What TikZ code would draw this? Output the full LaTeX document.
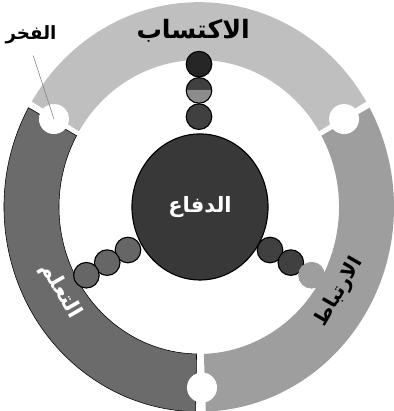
\documentclass[tikz,border=0pt]{standalone}
\usepackage{fontspec}
\usetikzlibrary{positioning, shapes.geometric}
\newfontfamily\arabicfont[Script=Arabic]{DejaVu Sans}
\TeXXeTstate=1
\tikzset{
    bead/.style={circle, draw=black, thick, minimum size=6.4mm, inner sep=0pt, fill=black!75},
    gapdot/.style={circle, fill=white, minimum size=7.5mm, inner sep=0pt},
    ringtext/.style={font=\arabicfont\bfseries\fontsize{15}{15}\selectfont, inner sep=1pt},
    leader/.style={draw=black!50, thin, shorten <=5pt}
}

\begin{document}
\begin{tikzpicture}[x=0.025cm, y=0.02625cm]
\useasboundingbox (-199,-194.3) rectangle (194,197.1);

% --- Ring segments ---
\fill[black!25] (31:195) arc[start angle=31, end angle=149, radius=195]
    -- (149:140) arc[start angle=149, end angle=31, radius=140] -- cycle;
\fill[black!38] (-88:195) arc[start angle=-88, end angle=29, radius=195]
    -- (29:140) arc[start angle=29, end angle=-88, radius=140] -- cycle;
\filldraw[fill=black!58, draw=black, thin] (151:195) arc[start angle=151, end angle=269, radius=195]
    -- (269:140) arc[start angle=269, end angle=151, radius=140] -- cycle;

% --- White joints between segments ---
\node[gapdot] (g30) at (30:167.5) {};
\node[gapdot] (g150) at (150:167.5) {};
\node[gapdot] (g270) at (271:172) {};

% --- Bead chains ---
\node[bead] (top1) at (90:86) {};
\node[bead, path picture={\fill[black!45] (path picture bounding box.west) rectangle (path picture bounding box.south east);}] (top2) at (90:111) {};
\node[bead, fill=black!85] (top3) at (90:136) {};
\foreach \i/\r in {1/82, 2/106, 3/130} {
    \node[bead, fill=black!60] (left\i) at (210:\r) {};
}
\node[bead] (right1) at (330:82) {};
\node[bead] (right2) at (330:106) {};
\node[bead, fill=black!38, draw=black!38] (right3) at (330:130) {};

% --- Centre ---
\node[ellipse, draw=black, thick, fill=black!78, minimum width=3.4cm, minimum height=3.65cm,
    inner sep=0pt, text=white, font=\arabicfont\bfseries\fontsize{15}{15}\selectfont] (defence) at (1,0) {\beginR الدفاع\endR};

% --- Ring labels ---
\node[ringtext, font=\arabicfont\bfseries\fontsize{18}{18}\selectfont] (gain) at (92:168) {\beginR الاكتساب\endR};
\node[ringtext, rotate=60, font=\arabicfont\bfseries\fontsize{14}{14}\selectfont] (bond) at (330:162) {\beginR الارتباط\endR};
\node[ringtext, rotate=-60, text=white] (learn) at (210:160) {\beginR التعلم\endR};

% --- Side note ---
\node[font=\arabicfont\bfseries\fontsize{13}{13}\selectfont] (pride) at (-168,164) {\beginR الفخر\endR};
\draw[leader] (pride.south) -- (g150.center);

\end{tikzpicture}
\end{document}
